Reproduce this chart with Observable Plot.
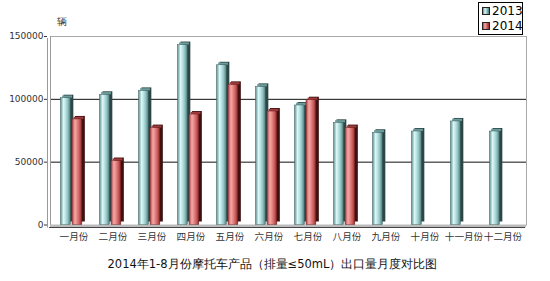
<!DOCTYPE html>
<html><head><meta charset="utf-8">
<script src="https://cdn.jsdelivr.net/npm/d3@7"></script>
<script src="https://cdn.jsdelivr.net/npm/@observablehq/plot@0.6"></script>
<style>
body{margin:0;background:#fff;}
#wrap{position:relative;width:550px;height:281px;}
#legend{position:absolute;left:478px;top:2px;width:45px;height:33px;border:1px solid #000;background:#fff;font:12px "DejaVu Sans",sans-serif;color:#000;box-sizing:border-box;}
#legend .row{position:absolute;left:3px;height:15px;line-height:15px;white-space:nowrap;}
#legend .sw{display:inline-block;width:8px;height:8px;border:1px solid #222;margin-right:2px;vertical-align:0px;box-sizing:border-box;}
</style>
</head><body>
<div id="wrap"><div id="legend"></div></div>
<script>
const months = ["一月份","二月份","三月份","四月份","五月份","六月份","七月份","八月份","九月份","十月份","十一月份","十二月份"];
const years = ["2013","2014"];
const v2013 = [100900,103600,106700,143200,127100,109900,95100,81300,73400,74400,82400,74400];
const v2014 = [84000,50900,77100,87900,111500,90300,99300,77100];
const yTicks = [0,50000,100000,150000];
const unitLabel = "辆";
const title = "2014年1-8月份摩托车产品（排量≤50mL）出口量月度对比图";

const d13 = v2013.map((v,i)=>({month:months[i], year:years[0], value:v}));
const d14 = v2014.map((v,i)=>({month:months[i], year:years[1], value:v}));

const W = 550, H = 281, ML = 50, MR = 24;
const bw = (W-ML-MR)/months.length;
const ins = {
  "2013": {insetLeft:6.5, insetRight: bw-17},
  "2014": {insetLeft:18, insetRight: bw-28.5}
};
const colors = {
  "2013": {side:"#2c4646", cap:"#6e9c9c", grad:"g13", stroke:"#3d5f5f"},
  "2014": {side:"#3e1010", cap:"#a03a3a", grad:"g14", stroke:"#6a2020"}
};

function barMarks(d, y){
  const c = colors[y], i = ins[y];
  return [
    Plot.barY(d, {x:"month", y:"value", fill:c.side, dx:3, dy:-3, ...i}),
    Plot.tickY(d, {x:"month", y:"value", stroke:c.cap, strokeWidth:2.2, dx:1.6, dy:-1.6, ...i}),
    Plot.barY(d, {x:"month", y:"value", fill:`url(#${c.grad})`, stroke:c.stroke, strokeWidth:0.5, ...i})
  ];
}

const chart = Plot.plot({
  width: W, height: H,
  marginLeft: ML, marginRight: MR, marginTop: 36, marginBottom: 56.5,
  style: {fontFamily: "DejaVu Sans, sans-serif", background: "#fff", overflow: "visible"},
  x: {type:"band", domain: months, padding: 0, label: null},
  y: {domain: [0,150000], label: null},
  marks: [
    Plot.ruleY([150000], {stroke:"#aaa", strokeWidth:1.2}),
    Plot.ruleY([50000,100000], {stroke:"#111", strokeWidth:1}),
    Plot.frame({anchor:"right", stroke:"#aaa"}),
    Plot.frame({anchor:"left", stroke:"#999"}),
    Plot.frame({anchor:"left", stroke:"#999", dx:-3, dy:2}),
    Plot.ruleY([0], {stroke:"#bbb", strokeWidth:3, dy:1}),
    Plot.ruleY([0], {stroke:"#444", strokeWidth:1, dy:2.5, dx:-1}),
    ...barMarks(d13, "2013"),
    ...barMarks(d14, "2014"),
    Plot.axisY({ticks: yTicks, tickFormat: d => String(d), tickSize: 3, tickPadding: 1, dx: -3, fontSize: 9, color:"#333"}),
    Plot.axisX({tickSize: 0, tickPadding: 8, fontSize: 9.6, dx: 0, color:"#333", fontFamily: "Noto Sans CJK SC, sans-serif"}),
    Plot.text([unitLabel], {frameAnchor:"top-left", dx:6, dy:-19, fontSize:10, fill:"#333"}),
    Plot.text([title], {frameAnchor:"bottom", dy:43, fontSize:11.5, fill:"#111", dx:-16})
  ]
});

const svg = d3.select(chart);
const defs = svg.insert("defs", ":first-child");
function grad(id, stops){
  const g = defs.append("linearGradient").attr("id", id).attr("x1","0").attr("x2","1").attr("y1","0").attr("y2","0");
  stops.forEach(([o,c]) => g.append("stop").attr("offset", o).attr("stop-color", c));
}
grad("g13", [[0,"#5e8e8e"],[0.3,"#dcf6f6"],[0.45,"#c4ecec"],[0.75,"#8fc0c0"],[1,"#4f7a7a"]]);
grad("g14", [[0,"#a84444"],[0.3,"#f6a8a8"],[0.45,"#ec9090"],[0.75,"#cc5c5c"],[1,"#8a2c2c"]]);

document.getElementById("wrap").prepend(chart);

const lg = document.getElementById("legend");
years.forEach((y,i) => {
  const row = document.createElement("div");
  row.className = "row";
  row.style.top = (1 + i*15) + "px";
  const sw = document.createElement("span");
  sw.className = "sw";
  sw.style.background = i === 0 ? "linear-gradient(90deg,#5e8e8e,#dcf6f6,#8fc0c0,#4f7a7a)" : "linear-gradient(90deg,#a84444,#f6a8a8,#cc5c5c,#8a2c2c)";
  row.appendChild(sw);
  row.appendChild(document.createTextNode(y));
  lg.appendChild(row);
});
</script>
</body></html>
